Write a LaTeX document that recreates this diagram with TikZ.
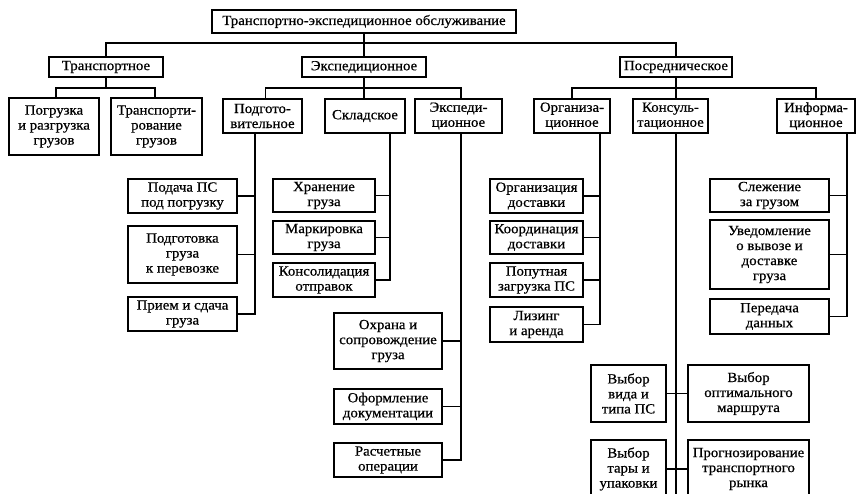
\documentclass[tikz,border=0pt]{standalone}
\usepackage{fontspec}
\setmainfont[FakeStretch=1.06,FakeBold=0.6]{Liberation Serif}
\begin{document}
\begin{tikzpicture}[x=1pt,y=-1pt,
  box/.style={draw, line width=1.6pt, inner sep=0pt, align=center,
    font=\fontsize{14}{15}\selectfont},
  conn/.style={line width=1.4pt}]
\newcommand{\bx}[6]{\node[box, minimum width={(#4-#2)*1pt}, minimum height={(#5-#3)*1pt}]
  (#1) at ({(#2+#4)/2},{(#3+#5)/2}) {#6};}
\useasboundingbox (0,0) rectangle (860,494);
\clip (0,0) rectangle (860,494);
\fill[white] (0,0) rectangle (860,494);
% level 0
\bx{top}{212}{10}{516}{33}{Транспортно-экспедиционное обслуживание}
% level 1
\bx{tr}{49}{57}{163}{77}{Транспортное}
\bx{ex}{302}{57}{426}{77}{Экспедиционное}
\bx{po}{620}{57}{732}{77}{Посредническое}
% level 2
\bx{t1}{9}{98}{99}{155}{Погрузка\\и разгрузка\\грузов}
\bx{t2}{111}{98}{202}{155}{Транспорти-\\рование\\грузов}
\bx{e1}{223}{99}{302}{133}{Подгото-\\вительное}
\bx{e2}{325}{99}{405}{133}{Складское}
\bx{e3}{415}{99}{502}{133}{Экспеди-\\ционное}
\bx{o1}{534}{99}{610}{133}{Организа-\\ционное}
\bx{o2}{633}{99}{708}{133}{Консуль-\\тационное}
\bx{o3}{777}{99}{855}{133}{Информа-\\ционное}
% Подготовительное children
\bx{p1}{128}{179}{237}{213}{Подача ПС\\под погрузку}
\bx{p2}{128}{226}{237}{283}{Подготовка\\груза\\к перевозке}
\bx{p3}{128}{297}{237}{331}{Прием и сдача\\груза}
% Складское children
\bx{s1}{273}{179}{375}{212}{Хранение\\груза}
\bx{s2}{273}{221}{375}{254}{Маркировка\\груза}
\bx{s3}{273}{263}{375}{297}{Консолидация\\отправок}
% Экспедиционное children
\bx{x1}{334}{313}{442}{369}{Охрана и\\сопровождение\\груза}
\bx{x2}{334}{389}{442}{424}{Оформление\\документации}
\bx{x3}{334}{443}{442}{477}{Расчетные\\операции}
% Организационное children
\bx{g1}{490}{179}{583}{213}{Организация\\доставки}
\bx{g2}{490}{221}{583}{254}{Координация\\доставки}
\bx{g3}{490}{263}{583}{297}{Попутная\\загрузка ПС}
\bx{g4}{490}{307}{583}{342}{Лизинг\\и аренда}
% Консультационное children
\bx{c1}{591}{365}{666}{422}{Выбор\\вида и\\типа ПС}
\bx{c2}{688}{365}{809}{422}{Выбор\\оптимального\\маршрута}
\bx{c3}{591}{440}{666}{498}{Выбор\\тары и\\упаковки}
\bx{c4}{688}{440}{809}{498}{Прогнозирование\\транспортного\\рынка}
% Информационное children
\bx{i1}{710}{179}{829}{212}{Слежение\\за грузом}
\bx{i2}{710}{220}{829}{289}{Уведомление\\о вывозе и\\доставке\\груза}
\bx{i3}{710}{299}{829}{334}{Передача\\данных}
% bus levels
\coordinate (busA) at (0,43);
\coordinate (busB) at (0,88);
% level 0 -> 1
\draw[conn] (top.south) -- (ex.north);
\draw[conn] (tr.north) |- (busA -| po.north) -- (po.north);
% Транспортное
\coordinate (t1n) at ([xshift=2pt]t1.north);
\coordinate (t2n) at ([xshift=-1.5pt]t2.north);
\draw[conn] (tr.south) -- (tr.south |- busB);
\draw[conn] (t1n) |- (busB -| t2n) -- (t2n);
% Экспедиционное
\coordinate (e1n) at ([xshift=3pt]e1.north);
\coordinate (e3n) at ([xshift=2.5pt]e3.north);
\draw[conn] (ex.south) -- (e2.north -| ex.south);
\draw[conn] (e1n) |- (busB -| e3n) -- (e3n);
% Посредническое
\draw[conn] (po.south) -- (o2.north -| po.south);
\draw[conn] (o1.north) |- (busB -| o3.north) -- (o3.north);
% trunks
\coordinate (e1t) at ([xshift=-7.5pt]e1.south);
\coordinate (e2t) at ([xshift=25pt]e2.south);
\coordinate (e3t) at ([xshift=2.5pt]e3.south);
\coordinate (o1t) at ([xshift=28pt]o1.south);
\coordinate (o2t) at ([xshift=5.5pt]o2.south);
\coordinate (o3t) at ([xshift=31pt]o3.south);
\coordinate (o2end) at (676,494);
\draw[conn] (e1t) |- (p3.east);
\draw[conn] (p1.east) -- (p1.east -| e1t);
\draw[conn] (p2.east) -- (p2.east -| e1t);
\draw[conn] (e2t) |- (s3.east);
\draw[conn] (s1.east) -- (s1.east -| e2t);
\draw[conn] (s2.east) -- (s2.east -| e2t);
\draw[conn] (e3t) |- (x3.east);
\draw[conn] (x1.east) -- (x1.east -| e3t);
\draw[conn] (x2.east) -- (x2.east -| e3t);
\draw[conn] (o1t) |- (g4.east);
\draw[conn] (g1.east) -- (g1.east -| o1t);
\draw[conn] (g2.east) -- (g2.east -| o1t);
\draw[conn] (g3.east) -- (g3.east -| o1t);
\draw[conn] (o2t) -- (o2end);
\draw[conn] (c1.east) -- (c2.west);
\draw[conn] (c3.east) -- (c4.west);
\draw[conn] (o3t) |- (i3.east);
\draw[conn] (i1.east) -- (i1.east -| o3t);
\draw[conn] (i2.east) -- (i2.east -| o3t);
\end{tikzpicture}
\end{document}
